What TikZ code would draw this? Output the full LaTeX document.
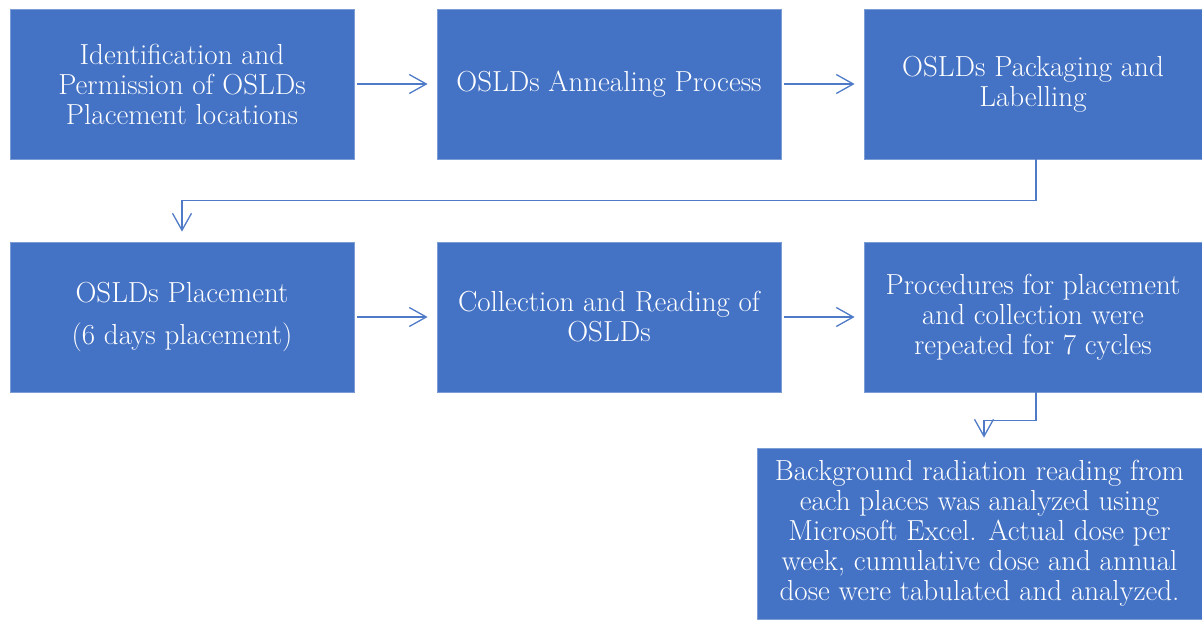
\documentclass[tikz,border=0pt]{standalone}
\usetikzlibrary{arrows.meta}
\definecolor{boxblue}{HTML}{4472C4}
\definecolor{linkblue}{HTML}{4F7AC7}
\tikzset{
  stepbox/.style={rectangle, fill=boxblue, draw=boxblue!70!white, line width=0.8pt,
    text=white, align=center, inner sep=0pt,
    font=\fontsize{29}{30}\selectfont},
  link/.style={draw=linkblue, line width=1.3pt,
    -{Straight Barb[length=17pt,width=19pt,line width=1.3pt]}}
}
\begin{document}
\begin{tikzpicture}[x=1pt,y=-1pt]
\useasboundingbox (0,0) rectangle (1202,619);
\node[stepbox, minimum width=344pt, minimum height=150pt] (b1) at (182,84)
  {Identification and\\Permission of OSLDs\\Placement locations};
\node[stepbox, minimum width=344pt, minimum height=150pt] (b2) at (609,84)
  {OSLDs Annealing Process};
\node[stepbox, minimum width=338pt, minimum height=150pt] (b3) at (1033,84)
  {OSLDs Packaging and\\Labelling};
\node[stepbox, minimum width=344pt, minimum height=150pt] (b4) at (182,317)
  {OSLDs Placement\\[12pt](6 days placement)};
\node[stepbox, minimum width=344pt, minimum height=150pt] (b5) at (609,317)
  {Collection and Reading of\\OSLDs};
\node[stepbox, minimum width=338pt, minimum height=150pt] (b6) at (1033,317)
  {Procedures for placement\\and collection were\\repeated for 7 cycles};
\node[stepbox, minimum width=445pt, minimum height=171pt] (b7) at (979.5,533.5)
  {Background radiation reading from\\each places was analyzed using\\Microsoft Excel. Actual dose per\\week, cumulative dose and annual\\dose were tabulated and analyzed.};
\draw[link, shorten <=3pt, shorten >=9pt] (b1.east) -- (b2.west);
\draw[link, shorten <=3pt, shorten >=9pt] (b2.east) -- (b3.west);
\draw[link, shorten <=3pt, shorten >=9pt] (b4.east) -- (b5.west);
\draw[link, shorten <=3pt, shorten >=9pt] (b5.east) -- (b6.west);
\draw[link] ([xshift=3pt]b3.south) -- ++(0,41) -| ([yshift=10pt]b4.north);
\draw[link] ([xshift=3pt]b6.south) -- ++(0,28) -| ([xshift=4.5pt,yshift=10pt]b7.north);
\end{tikzpicture}
\end{document}
